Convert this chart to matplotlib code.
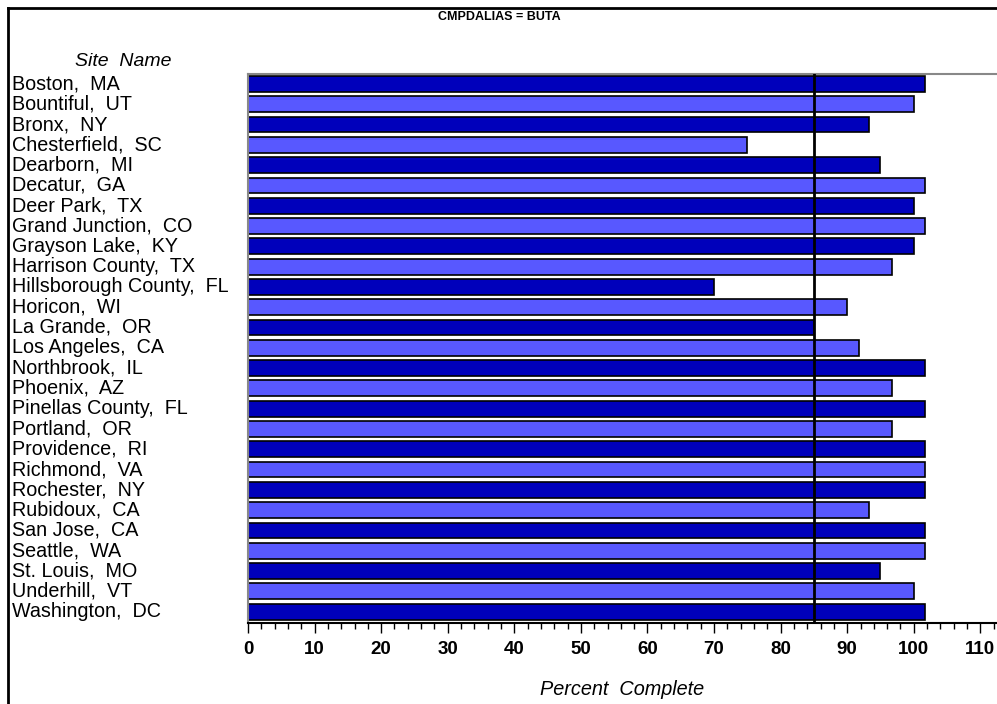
import matplotlib.pyplot as plt
from matplotlib.ticker import MultipleLocator

# data
sites = ["Boston,  MA", "Bountiful,  UT", "Bronx,  NY", "Chesterfield,  SC",
         "Dearborn,  MI", "Decatur,  GA", "Deer Park,  TX", "Grand Junction,  CO",
         "Grayson Lake,  KY", "Harrison County,  TX", "Hillsborough County,  FL",
         "Horicon,  WI", "La Grande,  OR", "Los Angeles,  CA", "Northbrook,  IL",
         "Phoenix,  AZ", "Pinellas County,  FL", "Portland,  OR", "Providence,  RI",
         "Richmond,  VA", "Rochester,  NY", "Rubidoux,  CA", "San Jose,  CA",
         "Seattle,  WA", "St. Louis,  MO", "Underhill,  VT", "Washington,  DC"]
pct = [101.7, 100.0, 93.3, 75.0, 95.0, 101.7, 100.0, 101.7, 100.0, 96.7, 70.0,
       90.0, 85.0, 91.7, 101.7, 96.7, 101.7, 96.7, 101.7, 101.7, 101.7, 93.3,
       101.7, 101.7, 95.0, 100.0, 101.7]
ref_line = 85

plt.rcParams['font.family'] = ['Liberation Sans', 'DejaVu Sans']

fig = plt.figure(figsize=(9.97, 7.04), dpi=100)
ax = fig.add_axes([248 / 997, 1 - 623 / 704, (997 - 248) / 997, (623 - 74) / 704])

colors = ['#0000BB' if i % 2 == 0 else '#5858FF' for i in range(len(sites))]
ypos = list(range(len(sites)))
ax.barh(ypos, pct, height=0.78, color=colors, edgecolor='black', linewidth=1.2, zorder=2)
ax.axvline(ref_line, color='black', linewidth=2, zorder=3)

ax.set_xlim(0, 112.5)
ax.set_ylim(len(sites) - 0.44, -0.49)
ax.set_yticks([])
ax.xaxis.set_major_locator(MultipleLocator(10))
ax.xaxis.set_minor_locator(MultipleLocator(2))
ax.set_xticks(range(0, 111, 10))
ax.tick_params(axis='x', which='major', length=7, width=1, labelsize=13.5, pad=6)
ax.tick_params(axis='x', which='minor', length=4, width=1)
for lbl in ax.get_xticklabels():
    lbl.set_fontweight('bold')

ax.spines['right'].set_visible(False)
ax.spines['top'].set_color('#888888')
ax.spines['left'].set_color('#888888')
ax.spines['top'].set_linewidth(1.5)
ax.spines['left'].set_linewidth(1.5)
ax.spines['bottom'].set_linewidth(1.5)

# site names as left-aligned text in the figure margin
for i, s in enumerate(sites):
    ax.annotate(s, xy=(12 / 997, i), xycoords=('figure fraction', 'data'),
                ha='left', va='center', fontsize=14.2)

fig.text(123 / 997, 1 - 62 / 704, "Site  Name", ha='center', va='center',
         fontsize=14, style='italic')
ax.set_xlabel("Percent  Complete", fontsize=14.3, style='italic', labelpad=16)
fig.text(499 / 997, 1 - 17 / 704, "CMPDALIAS = BUTA", ha='center', va='center',
         fontsize=9, fontweight='bold')

# outer frame
fig.add_artist(plt.Line2D([8 / 997, 8 / 997], [0, 1 - 8 / 704], color='black', linewidth=2))
fig.add_artist(plt.Line2D([8 / 997, 1], [1 - 8 / 704, 1 - 8 / 704], color='black', linewidth=2))

fig.savefig("out.png", dpi=100)
